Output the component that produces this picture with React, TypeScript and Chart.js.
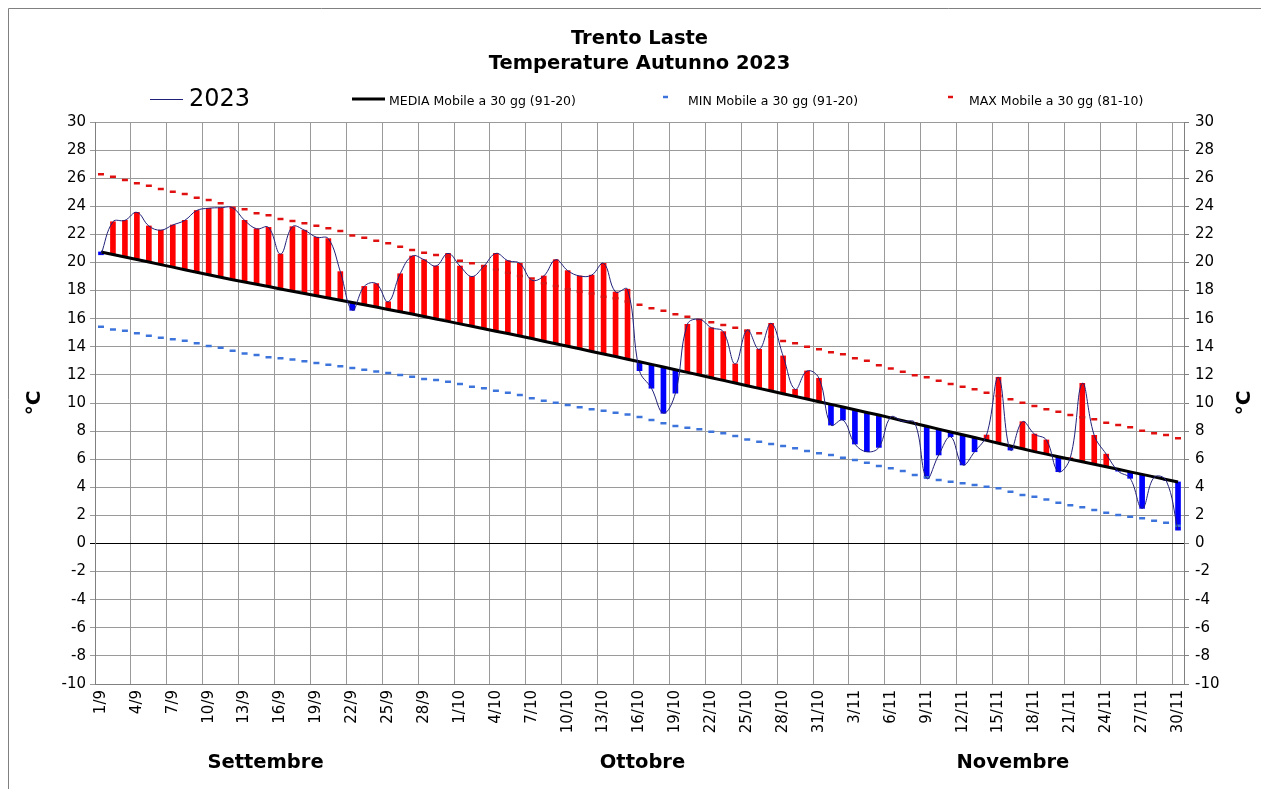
import React, { useEffect, useRef } from 'react';
import { Chart, registerables } from 'chart.js';

Chart.register(...registerables);

const titleLines = ['Trento Laste', 'Temperature Autunno 2023'];
const monthNames = ['Settembre', 'Ottobre', 'Novembre'];
const monthNumbers = [9, 10, 11];
const monthLengths = [30, 31, 30];
const categories: string[] = [];
monthNumbers.forEach((m, k) => {
  for (let d = 1; d <= monthLengths[k]; d++) categories.push(`${d}/${m}`);
});

const tickLabels = [
  '1/9', '4/9', '7/9', '10/9', '13/9', '16/9', '19/9', '22/9', '25/9', '28/9',
  '1/10', '4/10', '7/10', '10/10', '13/10', '16/10', '19/10', '22/10', '25/10', '28/10', '31/10',
  '3/11', '6/11', '9/11', '12/11', '15/11', '18/11', '21/11', '24/11', '27/11', '30/11',
];

const seriesNames = ['2023', 'MEDIA Mobile a 30 gg (91-20)', 'MIN Mobile a 30 gg (91-20)', 'MAX Mobile a 30 gg (81-10)'];

const t2023 = [
  20.55, 22.9, 23.0, 23.57, 22.6, 22.3, 22.67, 23.0, 23.7, 23.86,
  23.9, 23.9, 23.0, 22.4, 22.5, 20.6, 22.55, 22.3, 21.8, 21.7,
  19.35, 16.6, 18.3, 18.5, 17.2, 19.2, 20.46, 20.2, 19.75, 20.65,
  19.75, 19.0, 19.75, 20.65, 20.13, 19.94, 18.75, 19.04, 20.2, 19.42,
  19.04, 19.1, 19.94, 17.9, 18.1, 12.3, 11.05, 9.27, 10.7, 15.6,
  15.96, 15.36, 15.08, 12.78, 15.2, 13.82, 15.67, 13.35, 10.97, 12.28,
  11.76, 8.43, 8.79, 7.08, 6.53, 6.84, 9.0, 8.7, 8.6, 4.64,
  6.3, 7.6, 5.59, 6.53, 7.72, 11.83, 6.65, 8.67, 7.79, 7.37,
  5.11, 6.1, 11.4, 7.7, 6.36, 5.15, 4.64, 2.5, 4.71, 4.5,
  0.95,
];

const media = [
  20.75, 20.57, 20.39, 20.21, 20.03, 19.85, 19.67, 19.49, 19.31, 19.13,
  18.95, 18.77, 18.61, 18.45, 18.29, 18.12, 17.96, 17.8, 17.64, 17.48,
  17.31, 17.15, 16.99, 16.83, 16.66, 16.5, 16.33, 16.15, 15.98, 15.81,
  15.63, 15.46, 15.29, 15.11, 14.94, 14.77, 14.59, 14.4, 14.22, 14.04,
  13.86, 13.67, 13.49, 13.31, 13.12, 12.94, 12.75, 12.56, 12.37, 12.18,
  11.99, 11.8, 11.61, 11.42, 11.23, 11.04, 10.85, 10.66, 10.47, 10.28,
  10.09, 9.9, 9.71, 9.52, 9.33, 9.14, 8.94, 8.74, 8.54, 8.34,
  8.14, 7.94, 7.74, 7.54, 7.34, 7.14, 6.94, 6.74, 6.54, 6.36,
  6.18, 6.0, 5.82, 5.64, 5.46, 5.28, 5.1, 4.92, 4.74, 4.56,
  4.38,
];

const minMobile = [
  15.43, 15.24, 15.15, 14.96, 14.79, 14.65, 14.53, 14.43, 14.25, 14.06,
  13.94, 13.72, 13.53, 13.42, 13.25, 13.18, 13.1, 12.97, 12.85, 12.73,
  12.61, 12.49, 12.37, 12.25, 12.13, 12.0, 11.87, 11.71, 11.64, 11.52,
  11.35, 11.16, 11.05, 10.88, 10.73, 10.57, 10.33, 10.16, 10.02, 9.86,
  9.69, 9.55, 9.45, 9.31, 9.18, 9.0, 8.79, 8.55, 8.36, 8.24,
  8.13, 7.96, 7.84, 7.65, 7.41, 7.25, 7.08, 6.94, 6.78, 6.58,
  6.42, 6.3, 6.11, 5.95, 5.75, 5.52, 5.35, 5.16, 4.88, 4.71,
  4.52, 4.4, 4.28, 4.16, 4.04, 3.93, 3.69, 3.45, 3.33, 3.14,
  2.9, 2.72, 2.58, 2.38, 2.19, 2.03, 1.91, 1.79, 1.62, 1.48,
  1.27,
];

const maxMobile = [
  26.28, 26.1, 25.87, 25.64, 25.47, 25.23, 25.04, 24.88, 24.61, 24.45,
  24.21, 23.9, 23.79, 23.5, 23.36, 23.1, 22.95, 22.79, 22.62, 22.43,
  22.24, 21.93, 21.77, 21.55, 21.37, 21.12, 20.89, 20.7, 20.53, 20.41,
  20.13, 19.94, 19.75, 19.51, 19.27, 19.04, 18.87, 18.52, 18.33, 18.09,
  17.92, 17.8, 17.57, 17.45, 17.23, 17.0, 16.75, 16.57, 16.32, 16.14,
  15.9, 15.74, 15.55, 15.36, 15.15, 14.96, 14.72, 14.41, 14.25, 14.01,
  13.82, 13.61, 13.47, 13.18, 13.01, 12.68, 12.45, 12.23, 11.98, 11.83,
  11.59, 11.35, 11.16, 10.98, 10.73, 10.5, 10.26, 10.02, 9.79, 9.55,
  9.38, 9.15, 8.98, 8.84, 8.6, 8.43, 8.27, 8.03, 7.84, 7.72,
  7.49,
];

const yMin = -10;
const yMax = 30;
const yStep = 2;

const RED = '#ff0000';
const BLUE = '#0000ff';
const NAVY = '#20207a';
const MIN_BLUE = '#3d74dc';
const MAX_RED = '#e01010';
const FONT = '"DejaVu Sans", Verdana, sans-serif';

const decorPlugin = {
  id: 'decor',
  beforeDraw(chart: any) {
    const { ctx, width, height } = chart;
    ctx.save();
    ctx.strokeStyle = '#808080';
    ctx.lineWidth = 1;
    ctx.beginPath();
    ctx.moveTo(0.5, height + 5);
    ctx.lineTo(0.5, 0.5);
    ctx.lineTo(width - 0.5, 0.5);
    ctx.lineTo(width - 0.5, height + 5);
    ctx.stroke();
    ctx.restore();
  },
  afterDraw(chart: any) {
    const { ctx, chartArea } = chart;
    const cx = (chartArea.left + chartArea.right) / 2;
    ctx.save();
    ctx.fillStyle = '#000';
    ctx.textAlign = 'center';
    ctx.textBaseline = 'middle';
    ctx.font = `bold 19.5px ${FONT}`;
    ctx.fillText(titleLines[0], cx, 31);
    ctx.fillText(titleLines[1], cx, 56);

    // legend
    ctx.textAlign = 'left';
    ctx.strokeStyle = NAVY;
    ctx.lineWidth = 1;
    ctx.beginPath();
    ctx.moveTo(142, 91.5);
    ctx.lineTo(175, 91.5);
    ctx.stroke();
    ctx.font = `24px ${FONT}`;
    ctx.fillText(seriesNames[0], 181, 92);

    ctx.strokeStyle = '#000';
    ctx.lineWidth = 3;
    ctx.beginPath();
    ctx.moveTo(344, 91);
    ctx.lineTo(377, 91);
    ctx.stroke();
    ctx.font = `12.5px ${FONT}`;
    ctx.fillText(seriesNames[1], 381, 94);

    ctx.strokeStyle = MIN_BLUE;
    ctx.lineWidth = 2.5;
    ctx.beginPath();
    ctx.moveTo(655, 89);
    ctx.lineTo(660, 89);
    ctx.stroke();
    ctx.fillText(seriesNames[2], 680, 94);

    ctx.strokeStyle = MAX_RED;
    ctx.beginPath();
    ctx.moveTo(940, 89);
    ctx.lineTo(945, 89);
    ctx.stroke();
    ctx.fillText(seriesNames[3], 961, 94);

    // month labels
    const xs = chart.scales.x;
    const monthCenters = [13.75, 45.25, 76.2];
    ctx.textAlign = 'center';
    ctx.font = `bold 19.5px ${FONT}`;
    monthNames.forEach((name, k) => {
      ctx.fillText(name, xs.getPixelForValue(monthCenters[k]), 755);
    });

    // axis titles
    const cy = (chartArea.top + chartArea.bottom) / 2;
    ctx.font = `bold 20px ${FONT}`;
    [27, 1237].forEach((x) => {
      ctx.save();
      ctx.translate(x, cy);
      ctx.rotate(-Math.PI / 2);
      ctx.fillText('°C', 0, 0);
      ctx.restore();
    });
    ctx.restore();
  },
};

export default function App() {
  const canvasRef = useRef<HTMLCanvasElement | null>(null);

  useEffect(() => {
    const canvas = canvasRef.current;
    if (!canvas) return;
    const barData = media.map((m, i) => [m, t2023[i]]);
    const barColors = t2023.map((v, i) => (v >= media[i] ? RED : BLUE));

    const chart = new Chart(canvas, {
      type: 'bar',
      data: {
        labels: categories,
        datasets: [
          {
            type: 'line',
            label: seriesNames[0],
            data: t2023,
            borderColor: NAVY,
            borderWidth: 1,
            pointRadius: 0,
            tension: 0.4,
            fill: false,
            order: 0,
          } as any,
          {
            type: 'line',
            label: seriesNames[1],
            data: media,
            borderColor: '#000',
            borderWidth: 3,
            pointRadius: 0,
            tension: 0,
            fill: false,
            order: 1,
          } as any,
          {
            type: 'line',
            label: seriesNames[2],
            data: minMobile,
            showLine: false,
            pointStyle: 'line',
            pointRadius: 3,
            pointBorderWidth: 2.5,
            pointBorderColor: MIN_BLUE,
            borderColor: MIN_BLUE,
            order: 2,
          } as any,
          {
            type: 'line',
            label: seriesNames[3],
            data: maxMobile,
            showLine: false,
            pointStyle: 'line',
            pointRadius: 3,
            pointBorderWidth: 2.5,
            pointBorderColor: MAX_RED,
            borderColor: MAX_RED,
            order: 2,
          } as any,
          {
            type: 'bar',
            label: 'diff',
            data: barData,
            backgroundColor: barColors,
            borderWidth: 0,
            barThickness: 5,
            order: 3,
          } as any,
        ],
      },
      options: {
        responsive: false,
        animation: false,
        devicePixelRatio: 1,
        events: [],
        layout: { padding: { top: 114, left: 0, right: 0, bottom: 0 } },
        plugins: {
          legend: { display: false },
          title: { display: false },
          tooltip: { enabled: false },
        },
        scales: {
          x: {
            type: 'category',
            offset: true,
            grid: {
              offset: true,
              color: (c: any) => (c.index % 3 === 0 ? '#9a9a9a' : 'rgba(0,0,0,0)'),
              lineWidth: 1,
              drawTicks: false,
            },
            border: { color: '#808080' },
            ticks: {
              autoSkip: false,
              minRotation: 90,
              maxRotation: 90,
              padding: 6,
              color: '#000',
              font: { family: FONT, size: 15 },
              callback: (_v: any, idx: number) => (idx % 3 === 0 ? tickLabels[idx / 3] : ''),
            },
            afterFit: (s: any) => {
              s.height = 105;
            },
          },
          y: {
            position: 'left',
            min: yMin,
            max: yMax,
            grid: {
              color: (c: any) => (c.tick && c.tick.value === 0 ? '#000' : '#9a9a9a'),
              lineWidth: 1,
              tickLength: 5,
            },
            border: { color: '#808080' },
            ticks: {
              stepSize: yStep,
              padding: 4,
              color: '#000',
              font: { family: FONT, size: 15 },
            },
            afterFit: (s: any) => {
              s.width = 87;
            },
          },
          y2: {
            position: 'right',
            display: true,
            min: yMin,
            max: yMax,
            grid: { drawOnChartArea: false, color: '#808080', tickLength: 5 },
            border: { color: '#808080' },
            ticks: {
              stepSize: yStep,
              padding: 6,
              color: '#000',
              font: { family: FONT, size: 15 },
            },
            afterFit: (s: any) => {
              s.width = 78;
            },
          },
        },
      } as any,
      plugins: [decorPlugin],
    });
    return () => chart.destroy();
  }, []);

  return (
    <div style={{ width: 1254, height: 781 }}>
      <canvas ref={canvasRef} width={1254} height={781} style={{ display: 'block' }} />
    </div>
  );
}
